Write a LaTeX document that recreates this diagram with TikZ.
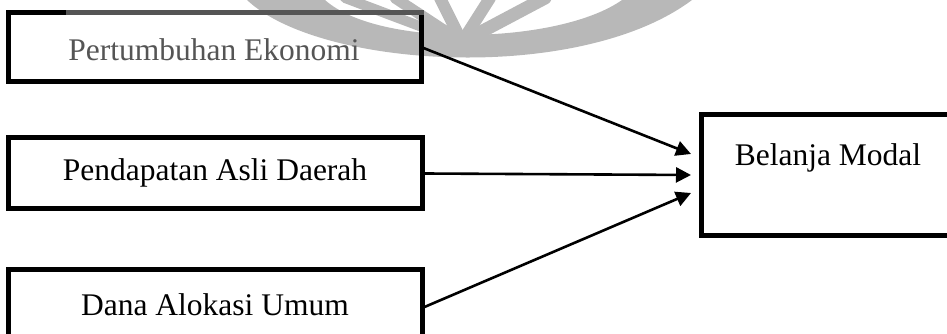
\documentclass[tikz,border=0pt]{standalone}
\usepackage{fontspec}
\setmainfont{Liberation Serif}
\usetikzlibrary{arrows.meta}
\definecolor{wm}{RGB}{184,184,184}
\definecolor{dimtext}{RGB}{85,85,85}
\tikzset{
  box/.style={draw=black, line width=5pt, rectangle, inner sep=0pt},
  lbl/.style={font=\fontsize{31.5}{36}\selectfont, inner sep=0pt},
  arr/.style={line width=2.6pt, -{Triangle[length=15pt,width=15pt]}},
}
\begin{document}
\begin{tikzpicture}[x=1pt,y=1pt]
\useasboundingbox (0,0) rectangle (947,334);
% watermark (faint logo)
\fill[wm] (247,334) .. controls (320,265) and (580,250) .. (692,334)
  -- (622,334) .. controls (560,290) and (380,285) .. (325,334) -- cycle;
\foreach \tx/\w in {345/10, 395/11, 440/12, 490/12, 545/13}{
  \draw[wm, line width=\w pt, line cap=round] (462,292) -- (\tx,336);
}
% boxes
\node[box, minimum width=413, minimum height=69] (pe) at (214.5,286.5) {};
\draw[dimtext, line width=5pt] (66,321) -- (423.5,321);
\node[lbl, text=dimtext] (pet) at (214,284) {Pertumbuhan Ekonomi};
\node[box, minimum width=414, minimum height=71] (pad) at (215,160.5) {};
\node[lbl] (padt) at (215,161) {Pendapatan Asli Daerah};
\node[box, minimum width=414, minimum height=76] (dau) at (215,26) {};
\node[lbl] (daut) at (215,29) {Dana Alokasi Umum};
\node[box, minimum width=260, minimum height=121, anchor=north west] (bm) at (699,222) {};
\node[lbl] (bmt) at (828,176) {Belanja Modal};
% connectors
\coordinate (t1) at (691,180);
\coordinate (t2) at (691,159);
\coordinate (t3) at (691,141);
\draw[arr] (pe.east) ++(0,-0.5) -- (t1);
\draw[arr] (pad.east) -- (t2);
\draw[arr] (dau.east) ++(0,1) -- (t3);
\end{tikzpicture}
\end{document}
